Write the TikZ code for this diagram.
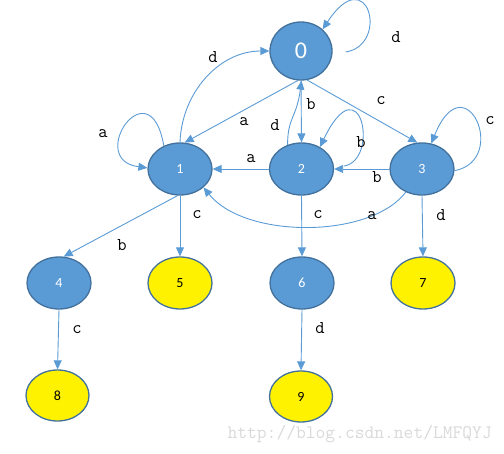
\documentclass[tikz,border=0pt]{standalone}
\usepackage{fontspec}
\setmainfont{Carlito}
\usetikzlibrary{arrows.meta,shapes.geometric}
\definecolor{nodeblue}{HTML}{5B9BD5}
\definecolor{nodeborder}{HTML}{41719C}
\definecolor{edgeblue}{HTML}{5B9BD5}
\definecolor{wmgray}{HTML}{D9D9D9}
\tikzset{
  bstate/.style={ellipse, draw=nodeborder, line width=1.3pt, fill=nodeblue, text=white,
    minimum width=64pt, minimum height=52pt, inner sep=0pt, font=\fontsize{14}{16}\selectfont},
  ystate/.style={bstate, fill=yellow, text=black},
  edge/.style={draw=edgeblue, line width=0.9pt, -{Triangle[length=9pt,width=8pt]}},
  elabel/.style={font=\ttfamily\fontsize{18}{20}\selectfont, text=black, inner sep=0pt}
}
\begin{document}
\begin{tikzpicture}[x=1pt,y=1pt]
\useasboundingbox (0,0) rectangle (504,-454);
\node[bstate, minimum width=62pt, minimum height=58pt, font=\fontsize{24}{26}\selectfont] (n0) at (301,-51) {0};
\node[bstate] (n1) at (180,-169) {1};
\node[bstate] (n2) at (301.5,-169) {2};
\node[bstate] (n3) at (422,-169) {3};
\node[bstate] (n4) at (59,-283) {4};
\node[ystate] (n5) at (180,-283) {5};
\node[bstate] (n6) at (302,-283) {6};
\node[ystate] (n7) at (423,-283) {7};
\node[ystate, minimum width=63pt, minimum height=51pt] (n8) at (57.5,-395.5) {8};
\node[ystate, minimum width=63pt, minimum height=51pt] (n9) at (301,-396.5) {9};

% loops
\draw[edge] ([xshift=13pt,yshift=-1pt]n0.east) .. controls (390,-45) and (368,40) .. (n0.45);
\draw[edge] (n1.125) .. controls (150,-65) and (85,-160) .. (n1.178);
\draw[edge] ([xshift=10pt,yshift=3pt]n2.east) .. controls (380,-160) and (361,-62) .. (n2.50);
\draw[edge] (n3.-3) .. controls (510,-160) and (465,-60) .. (n3.70);

% other edges
\draw[edge] (n1.90) to[out=88, in=180] (n0.180);
\draw[edge] (n0.-96) -- (n1.80);
\draw[edge] (n0.-90) -- (n2.90);
\draw[edge] (n2.120) .. controls +(0,28) and +(-5,-38) .. (n0.-89);
\draw[edge] (n0.-78) -- (n3.100);
\draw[edge] (n3.180) -- (n2.0);
\draw[edge] (n2.180) -- (n1.0);
\draw[edge] (n3.-125) .. controls (370,-239) and (245,-239) .. (n1.-38);
\draw[edge] (n1.-95) -- (n4.80);
\draw[edge] (n1.-90) -- (n5.90);
\draw[edge] (n2.-90) -- (n6.90);
\draw[edge] (n3.-90) -- (n7.90);
\draw[edge] (n4.-90) -- (n8.90);
\draw[edge] (n6.-90) -- (n9.90);

% labels
\node[elabel] (l0) at (396,-37) {d};
\node[elabel] (l1) at (213,-57) {d};
\node[elabel] (l2) at (244,-122) {a};
\node[elabel] (l3) at (311,-104) {b};
\node[elabel] (l4) at (275,-125) {d};
\node[elabel] (l5) at (361,-142) {b};
\node[elabel] (l6) at (381,-101) {c};
\node[elabel] (l7) at (490,-121) {c};
\node[elabel] (l8) at (103,-134) {a};
\node[elabel] (l9) at (251,-159) {a};
\node[elabel] (l10) at (377,-177) {b};
\node[elabel] (l11) at (372,-216) {a};
\node[elabel] (l12) at (122,-245) {b};
\node[elabel] (l13) at (197,-215) {c};
\node[elabel] (l14) at (318,-215) {c};
\node[elabel] (l15) at (441,-215) {d};
\node[elabel] (l16) at (77,-330) {c};
\node[elabel] (l17) at (320,-328) {d};

\node[font=\ttfamily\fontsize{19}{21}\selectfont, text=wmgray, anchor=east, inner sep=0pt] (wm) at (492,-434) {http://blog.csdn.net/LMFQYJ};
\end{tikzpicture}
\end{document}
